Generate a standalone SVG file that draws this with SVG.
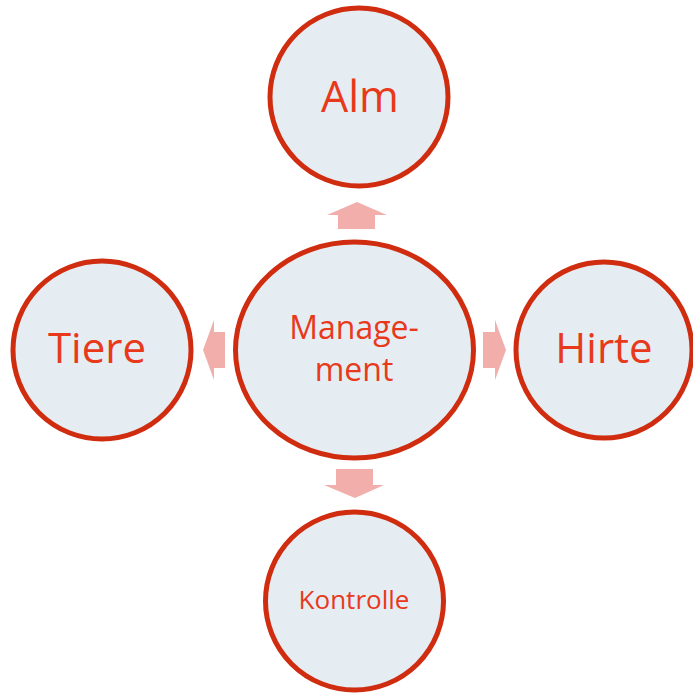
<svg xmlns="http://www.w3.org/2000/svg" width="693" height="693" viewBox="0 0 693 693">
<style>
.node{fill:#e5edf3;stroke:#d02d10;stroke-width:5}
.lbl{fill:#e8391b;font-family:"Open Sans","Noto Sans",sans-serif;text-anchor:middle}
.arr{fill:#f1aeab}
</style>
<rect width="693" height="693" fill="#ffffff"/>
<g id="connectors">
<polygon class="arr" points="357,202 387,215 375,215 375,229 338,229 338,215 327,215"/>
<polygon class="arr" points="203,350 214,320 214,332 225,332 225,368 214,368 214,380"/>
<polygon class="arr" points="506,350 495,320 495,332 483,332 483,368 495,368 495,380"/>
<polygon class="arr" points="355,498 384,485 373,485 373,469 336,469 336,485 324,485"/>
</g>
<g id="alm">
<circle class="node" cx="359" cy="97" r="89"/>
<text class="lbl" x="360" y="112" font-size="43">Alm</text>
</g>
<g id="management">
<ellipse class="node" cx="354.5" cy="350" rx="119" ry="108"/>
<text class="lbl" x="354" y="339" font-size="32">Manage-</text>
<text class="lbl" x="354" y="381" font-size="32">ment</text>
</g>
<g id="tiere">
<circle class="node" cx="102" cy="350" r="89"/>
<text class="lbl" x="97" y="363" font-size="42">Tiere</text>
</g>
<g id="hirte">
<circle class="node" cx="604" cy="350" r="88"/>
<text class="lbl" x="604" y="363" font-size="42">Hirte</text>
</g>
<g id="kontrolle">
<circle class="node" cx="354.5" cy="601" r="89"/>
<text class="lbl" x="354" y="609" font-size="26">Kontrolle</text>
</g>
</svg>
